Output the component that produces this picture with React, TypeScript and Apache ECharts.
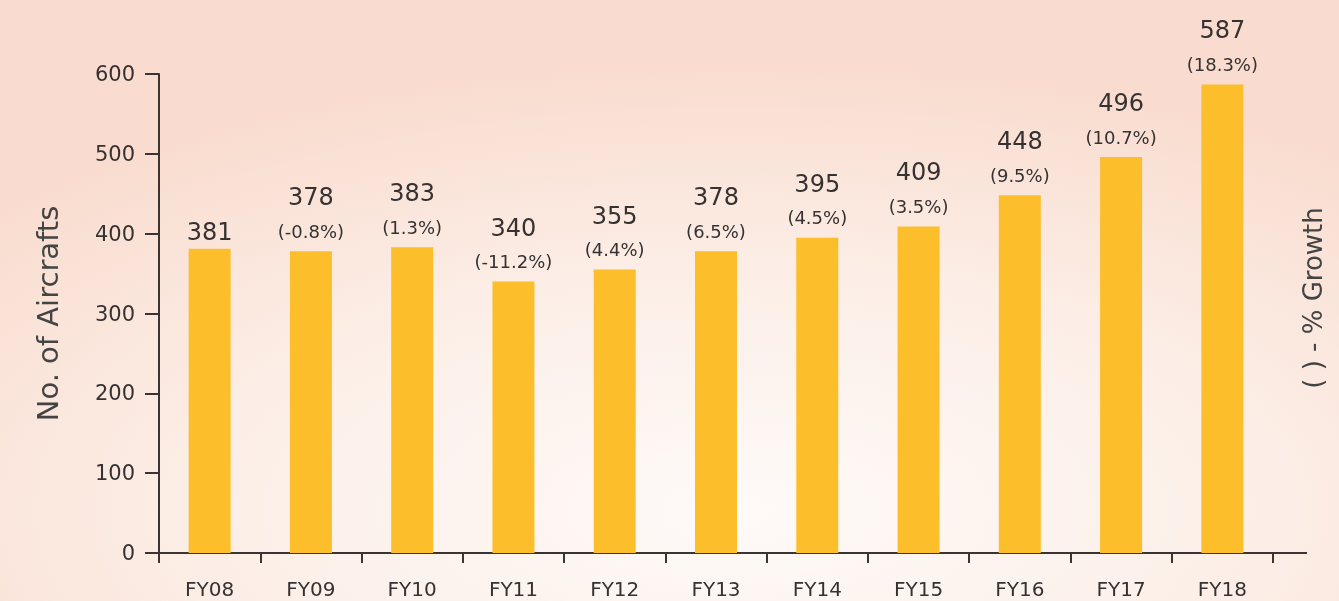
import React, { useEffect, useRef } from "react";
import * as echarts from "echarts";

const categories = ["FY08", "FY09", "FY10", "FY11", "FY12", "FY13", "FY14", "FY15", "FY16", "FY17", "FY18"];
const aircraft = [381, 378, 383, 340, 355, 378, 395, 409, 448, 496, 587];
const growth = ["", "(-0.8%)", "(1.3%)", "(-11.2%)", "(4.4%)", "(6.5%)", "(4.5%)", "(3.5%)", "(9.5%)", "(10.7%)", "(18.3%)"];
const yTicks = [0, 100, 200, 300, 400, 500, 600];

const FONT = "'DejaVu Sans', sans-serif";
const TEXT = "#363232";
const AXIS = "#3d3333";

export default function App() {
  const ref = useRef<HTMLDivElement>(null);
  useEffect(() => {
    if (!ref.current) return;
    const chart = echarts.init(ref.current, null, { renderer: "svg" });
    chart.setOption({
      animation: false,
      backgroundColor: new echarts.graphic.RadialGradient(0.55, 0.85, 0.75, [
        { offset: 0, color: "#fefaf8" },
        { offset: 0.5, color: "#fcefe8" },
        { offset: 1, color: "#f9dccf" },
      ]),
      grid: { left: 159, right: 66, top: 74, bottom: 48 },
      xAxis: {
        type: "category",
        data: categories,
        axisLine: { lineStyle: { color: AXIS, width: 2 } },
        axisTick: { show: true, length: 10, lineStyle: { color: AXIS, width: 2 } },
        axisLabel: { color: TEXT, fontFamily: FONT, fontSize: 20, margin: 26 },
      },
      yAxis: {
        type: "value",
        min: yTicks[0],
        max: yTicks[yTicks.length - 1],
        interval: 100,
        name: "No. of Aircrafts",
        nameLocation: "middle",
        nameGap: 97,
        nameRotate: 90,
        nameTextStyle: { color: "#444", fontFamily: FONT, fontSize: 29 },
        axisLine: { show: true, lineStyle: { color: AXIS, width: 2 } },
        axisTick: { show: true, length: 14, lineStyle: { color: AXIS, width: 2 } },
        axisLabel: { color: TEXT, fontFamily: FONT, fontSize: 21, margin: 24 },
        splitLine: { show: false },
      },
      graphic: [
        {
          type: "line",
          shape: { x1: 1273, y1: 553, x2: 1307, y2: 553 },
          style: { stroke: AXIS, lineWidth: 2 },
        },
        {
          type: "line",
          shape: { x1: 159, y1: 553, x2: 159, y2: 561 },
          style: { stroke: AXIS, lineWidth: 2 },
        },
        {
          type: "text",
          x: 1313,
          y: 298,
          rotation: Math.PI / 2,
          style: {
            text: "( ) - % Growth",
            fill: "#444",
            font: `26px ${FONT}`,
            textAlign: "center",
            textVerticalAlign: "middle",
          },
        },
      ],
      series: [
        {
          type: "bar",
          data: aircraft,
          barWidth: 42,
          itemStyle: { color: "#fcbe2a" },
          label: {
            show: true,
            position: "top",
            distance: 5,
            formatter: (p: any) =>
              growth[p.dataIndex] ? `{v|${p.value}}\n{p|${growth[p.dataIndex]}}` : `{s|${p.value}}`,
            rich: {
              v: { fontSize: 24, color: TEXT, fontFamily: FONT, lineHeight: 38 },
              s: { fontSize: 24, color: TEXT, fontFamily: FONT, lineHeight: 24 },
              p: { fontSize: 18, color: TEXT, fontFamily: FONT, lineHeight: 30 },
            },
          },
        },
      ],
    });
    return () => chart.dispose();
  }, []);
  return <div ref={ref} style={{ position: "fixed", left: 0, top: 0, width: 1339, height: 601 }} />;
}
